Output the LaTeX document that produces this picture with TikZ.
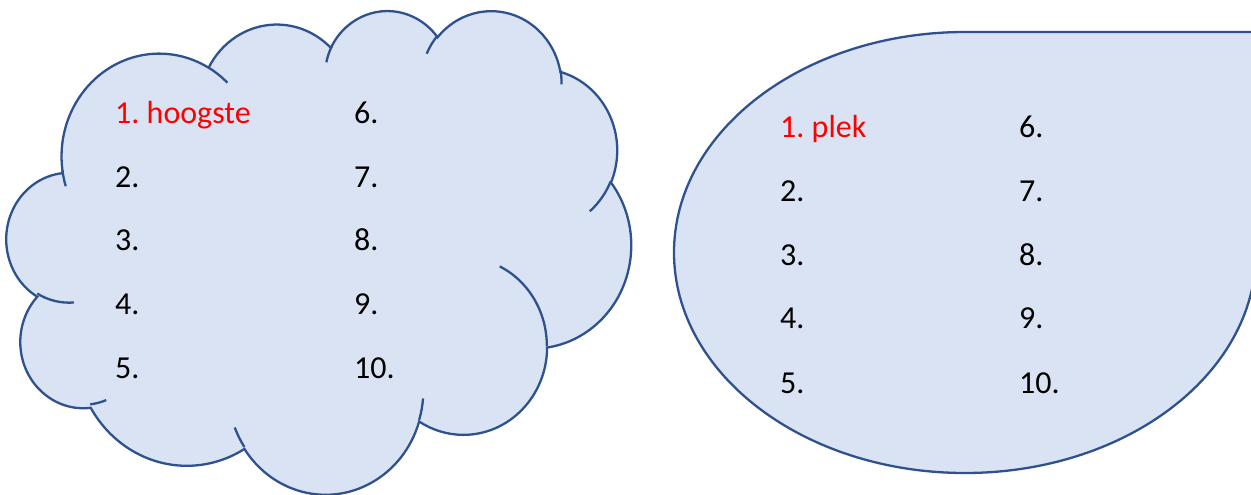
\documentclass[tikz,border=0pt]{standalone}
\usepackage{fontspec}
\setmainfont{Carlito}
\frenchspacing
\definecolor{cfill}{HTML}{DAE3F3}
\definecolor{cline}{HTML}{2F528F}
\newcommand\cldarc[4]{arc[x radius=#1, y radius=#2, start angle={atan2((#1)*sin(#3),(#2)*cos(#3))}, delta angle={mod(atan2((#1)*sin((#3)+(#4)),(#2)*cos((#3)+(#4)))-atan2((#1)*sin(#3),(#2)*cos(#3))-(#4)+540,360)-180+(#4)}]}
\begin{document}
\begin{tikzpicture}[x=1pt,y=-1pt,
  shapeline/.style={draw=cline, line width=2.3pt, fill=cfill, line join=miter},
  tickline/.style={draw=cline, line width=2.3pt},
  lbl/.style={anchor=base west, inner sep=0pt, font=\fontsize{32}{38}\selectfont\frenchspacing},
  firstlbl/.style={lbl, text=red}]
\useasboundingbox (0,0) rectangle (1251,495);
% cloud
\begin{scope}[shift={(6,9.5)}, x=1.44676pt, y=-1.11921pt]
\path[shapeline] (39.00,143.70)
  \cldarc{67.53}{91.90}{-190.4875}{123.7805}
  \cldarc{53.33}{72.67}{-144.1024}{89.9452}
  \cldarc{43.65}{59.45}{-145.8079}{99.7230}
  \cldarc{48.57}{65.95}{-130.9861}{117.2417}
  \cldarc{53.33}{72.73}{-78.7089}{109.0269}
  \cldarc{67.75}{92.20}{-46.2673}{130.2690}
  \cldarc{57.85}{78.67}{0.6250}{114.0333}
  \cldarc{67.52}{92.15}{22.4516}{115.1726}
  \cldarc{77.20}{105.43}{66.2426}{74.8907}
  \cldarc{43.60}{59.18}{-274.9421}{146.7356}
  \cldarc{43.45}{59.45}{-246.8285}{152.5189}
  -- cycle;
\path[tickline]
  (46.93,261.77) \cldarc{43.45}{59.45}{86.7420}{26.4295}
  (69.28,348.99) \cldarc{43.60}{59.18}{73.6105}{11.4475}
  (164.78,390.90) \cldarc{67.52}{92.15}{137.6242}{14.0811}
  (288.27,347.51) \cldarc{67.52}{92.15}{6.4533}{15.9984}
  (341.29,229.54) \cldarc{57.85}{78.67}{-70.2924}{70.9174}
  (417.98,153.54) \cldarc{53.33}{72.73}{30.3180}{27.7515}
  (383.24,54.26) \cldarc{48.57}{65.95}{-13.7443}{14.8589}
  (290.78,39.52) \cldarc{48.57}{65.95}{-149.1815}{18.1954}
  (221.41,47.20) \cldarc{43.65}{59.45}{-163.4943}{17.6864}
  (140.00,51.92) \cldarc{67.53}{91.90}{-66.7070}{12.3194}
  (41.27,157.89) \cldarc{67.53}{91.90}{157.6544}{11.8582};
\end{scope}
% teardrop
\path[shapeline] (674,252.5) arc[start angle=180, end angle=270, x radius=291, y radius=220.5]
  -- (1256,32) -- (1256,252.5) arc[start angle=0, end angle=180, x radius=291, y radius=220.5] -- cycle;
% left texts
\node[firstlbl] (l1) at (115,124) {1. hoogste};
\node[lbl] (l2) at (115,187) {2.};
\node[lbl] (l3) at (115,250.7) {3.};
\node[lbl] (l4) at (115,314) {4.};
\node[lbl] (l5) at (115,378.3) {5.};
\node[lbl] (l6) at (354,124) {6.};
\node[lbl] (l7) at (354,187) {7.};
\node[lbl] (l8) at (354,250.7) {8.};
\node[lbl] (l9) at (354,314) {9.};
\node[lbl] (l10) at (354,378.3) {10.};
% right texts
\node[firstlbl] (r1) at (780,137.3) {1. plek};
\node[lbl] (r2) at (780,201.7) {2.};
\node[lbl] (r3) at (780,265) {3.};
\node[lbl] (r4) at (780,328.5) {4.};
\node[lbl] (r5) at (780,393.3) {5.};
\node[lbl] (r6) at (1019,137.3) {6.};
\node[lbl] (r7) at (1019,201.7) {7.};
\node[lbl] (r8) at (1019,265) {8.};
\node[lbl] (r9) at (1019,328.5) {9.};
\node[lbl] (r10) at (1019,393.3) {10.};
\end{tikzpicture}
\end{document}
